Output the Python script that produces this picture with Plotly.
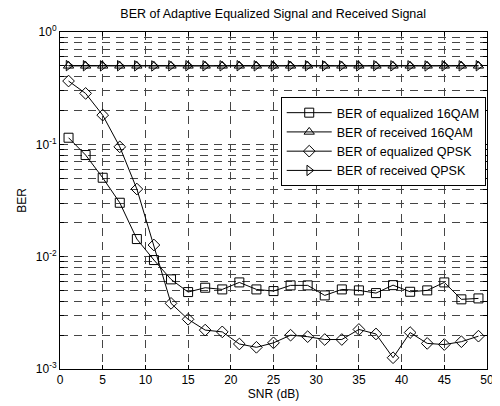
import plotly.graph_objects as go

snr = list(range(1, 50, 2))

ber_eq_16qam = [0.1145, 0.0803, 0.0504, 0.0302, 0.01435, 0.00933, 0.00628, 0.00484,
                0.00529, 0.00511, 0.0059, 0.00511, 0.00494, 0.00555, 0.00555, 0.00452,
                0.00511, 0.00501, 0.00474, 0.00558, 0.00487, 0.00501, 0.0059, 0.00417,
                0.00425]
ber_rx_16qam = [0.50, 0.50, 0.50, 0.50, 0.50, 0.50, 0.50, 0.50, 0.50, 0.50, 0.50, 0.50,
                0.50, 0.50, 0.50, 0.50, 0.50, 0.50, 0.50, 0.50, 0.50, 0.50, 0.50, 0.50,
                0.50]
ber_eq_qpsk = [0.366, 0.284, 0.182, 0.095, 0.040, 0.0127, 0.00384, 0.00277, 0.00222,
               0.00214, 0.00167, 0.00156, 0.00171, 0.00200, 0.00194, 0.00183, 0.00183,
               0.00225, 0.00205, 0.00126, 0.00211, 0.00169, 0.00165, 0.00175, 0.00196]
ber_rx_qpsk = [0.502, 0.501, 0.50, 0.501, 0.50, 0.499, 0.50, 0.501, 0.50, 0.50, 0.501,
               0.50, 0.499, 0.50, 0.501, 0.50, 0.50, 0.50, 0.501, 0.50, 0.50, 0.499,
               0.50, 0.50, 0.501]

names = ["BER of equalized 16QAM", "BER of received 16QAM",
         "BER of equalized QPSK", "BER of received QPSK"]
symbols = ["square-open", "triangle-up-open", "diamond-open", "triangle-right-open"]

x_ticks = list(range(0, 51, 5))
y_ticks = [m * 10 ** e for e in (-3, -2, -1) for m in range(1, 10)] + [1]
y_text = ["10<sup>%d</sup>" % e if m == 1 else "" for e in (-3, -2, -1) for m in range(1, 10)] + ["10<sup>0</sup>"]

fig = go.Figure()
for y, name, sym in zip([ber_eq_16qam, ber_rx_16qam, ber_eq_qpsk, ber_rx_qpsk], names, symbols):
    fig.add_trace(go.Scatter(
        x=snr, y=y, mode="lines+markers", name=name,
        line=dict(color="black", width=1),
        marker=dict(symbol=sym, size=9, color="black", line=dict(width=1, color="black")),
    ))

axis_common = dict(
    showline=True, linecolor="black", linewidth=1, mirror="ticks",
    ticks="inside", ticklen=4, tickcolor="black",
    showgrid=True, gridcolor="#454545", gridwidth=1, griddash="8px,6px",
    zeroline=False, tickfont=dict(size=12, color="black"), automargin=False,
)

# page body has an 8px margin, so the figure is a bit smaller than the window
fig.update_layout(
    width=492, height=398,
    margin=dict(l=52, r=13, t=24, b=37),
    paper_bgcolor="white", plot_bgcolor="white",
    font=dict(family="Liberation Sans, Arial", size=12, color="black"),
    title=dict(text="BER of Adaptive Equalized Signal and Received Signal",
               x=0.539, xanchor="center", y=0.985, yanchor="middle",
               font=dict(size=12.5)),
    xaxis=dict(range=[0, 50], tickvals=x_ticks,
               title=dict(text="SNR (dB)", standoff=2, font=dict(size=12)), **axis_common),
    yaxis=dict(type="log", range=[-3, 0], tickvals=y_ticks, ticktext=y_text,
               title=dict(text="BER", standoff=6, font=dict(size=12)), **axis_common),
    legend=dict(x=0.997, xanchor="right", y=0.807, yanchor="top",
                bgcolor="white", bordercolor="black", borderwidth=1,
                font=dict(size=12.5), tracegroupgap=0, itemwidth=45),
    showlegend=True,
)

fig.write_html("out.html")
